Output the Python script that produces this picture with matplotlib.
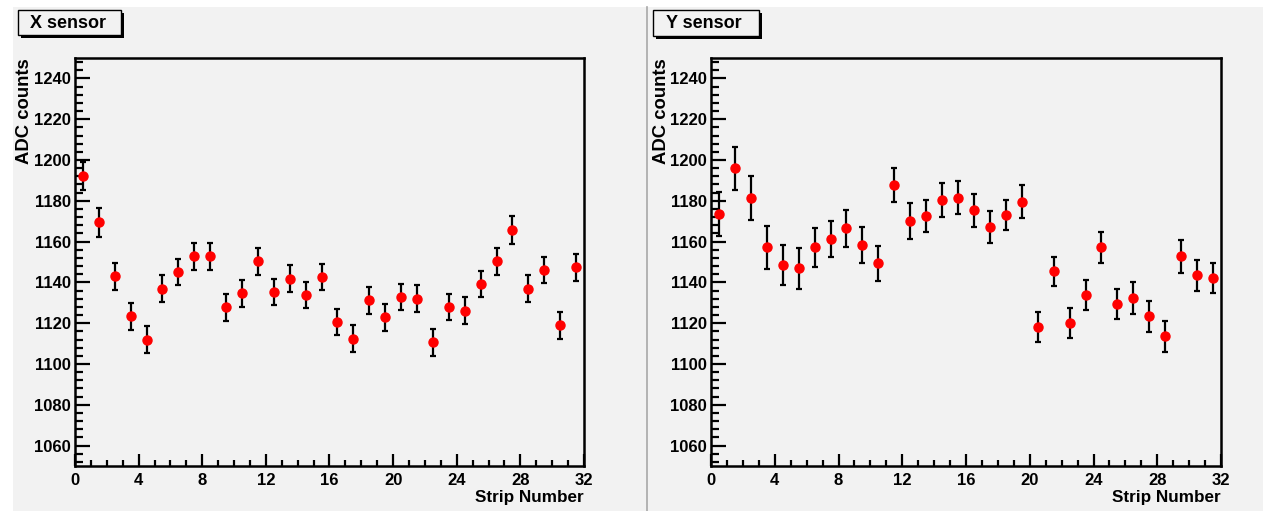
import numpy as np
import matplotlib
matplotlib.use("Agg")
import matplotlib.pyplot as plt
from matplotlib.patches import Rectangle
from matplotlib.lines import Line2D
from matplotlib.ticker import MultipleLocator

plt.rcParams['font.family'] = ['Liberation Sans', 'DejaVu Sans']
plt.rcParams['font.weight'] = 'bold'

# -----------------------------------------------------------------------------
# Data
# -----------------------------------------------------------------------------
strips = np.arange(32) + 0.5

x_adc = [1192.2, 1169.4, 1143.1, 1123.3, 1112.0, 1137.0, 1145.1, 1152.8,
         1152.8, 1127.7, 1134.6, 1150.3, 1135.2, 1141.8, 1133.8, 1142.6,
         1120.7, 1112.5, 1131.3, 1122.8, 1132.8, 1132.0, 1110.7, 1128.0,
         1126.2, 1139.3, 1150.3, 1165.7, 1136.9, 1146.0, 1119.0, 1147.4]
x_err = [7.0, 6.9, 6.6, 6.7, 6.6, 6.5, 6.6, 6.6,
         6.6, 6.6, 6.6, 6.6, 6.5, 6.6, 6.5, 6.5,
         6.5, 6.5, 6.6, 6.5, 6.5, 6.5, 6.6, 6.5,
         6.5, 6.5, 6.5, 6.9, 6.5, 6.5, 6.6, 6.6]

y_adc = [1173.4, 1196.0, 1181.5, 1157.2, 1148.6, 1146.9, 1157.2, 1161.3,
         1166.5, 1158.3, 1149.3, 1187.8, 1170.1, 1172.7, 1180.4, 1181.5,
         1175.3, 1167.3, 1173.0, 1179.6, 1118.1, 1145.4, 1120.0, 1133.8,
         1157.2, 1129.3, 1132.4, 1123.3, 1113.5, 1152.8, 1143.4, 1142.1]
y_err = [10.8, 10.6, 10.8, 10.6, 9.8, 10.2, 9.5, 9.0,
         9.2, 9.0, 8.5, 8.5, 8.8, 7.9, 8.2, 8.2,
         8.2, 7.9, 7.4, 8.2, 7.5, 7.2, 7.4, 7.5,
         7.7, 7.4, 7.7, 7.5, 7.5, 8.0, 7.5, 7.5]

panels = [("X sensor", x_adc, x_err), ("Y sensor", y_adc, y_err)]

# -----------------------------------------------------------------------------
# Figure and layout (pixel based)
# -----------------------------------------------------------------------------
W, H = 1263, 511
fig = plt.figure(figsize=(W / 100, H / 100), dpi=100, facecolor='white')
bg = '#f2f2f2'


def fx(x):
    return x / W


def fy(y):
    return 1 - y / H


fig.patches.append(Rectangle((fx(13), 0), 1 - fx(13), fy(7), transform=fig.transFigure,
                             facecolor=bg, edgecolor='none', zorder=-5))
fig.lines.append(Line2D([fx(647), fx(647)], [0, fy(7)], transform=fig.transFigure,
                        color='#a8a8a8', lw=1.2, zorder=1))

axes_left = [75, 711]
axes_right = [584, 1221]
top, bottom = 58, 466
title_boxes = [(18, 121, 10, 35, 30), (653, 759, 10, 36, 666)]

for i, (name, vals, errs) in enumerate(panels):
    l, r = axes_left[i], axes_right[i]
    ax = fig.add_axes([fx(l), fy(bottom), fx(r - l), (bottom - top) / H])
    ax.set_facecolor(bg)
    ax.errorbar(strips, vals, yerr=errs, fmt='o', color='red', markersize=6.5,
                ecolor='black', elinewidth=1.6, capsize=2.5, capthick=1.6, zorder=3)
    ax.set_xlim(0, 32)
    ax.set_ylim(1050, 1250)
    ax.xaxis.set_major_locator(MultipleLocator(4))
    ax.xaxis.set_minor_locator(MultipleLocator(1))
    ax.yaxis.set_major_locator(MultipleLocator(20))
    ax.yaxis.set_minor_locator(MultipleLocator(4))
    ax.tick_params(axis='both', which='both', direction='in', top=False, right=False,
                   width=1.6, labelsize=12)
    ax.tick_params(axis='y', which='major', length=10.8, pad=3)
    ax.tick_params(axis='y', which='minor', length=5.4)
    ax.tick_params(axis='x', which='major', length=8.6, pad=5)
    ax.tick_params(axis='x', which='minor', length=4.3)
    for s in ax.spines.values():
        s.set_linewidth(1.8)
    for lab in ax.get_xticklabels() + ax.get_yticklabels():
        lab.set_fontweight('bold')

    fig.text(fx(l - 50), fy(top), 'ADC counts', rotation=90, ha='center', va='top',
             fontsize=13.3, fontweight='bold')
    fig.text(fx(r), fy(497), 'Strip Number', ha='right', va='center',
             fontsize=12.3, fontweight='bold')

    # title box with shadow
    bl, br, bt, bb, tx = title_boxes[i]
    fig.patches.append(Rectangle((fx(bl + 3), fy(bb + 3)), fx(br - bl), (bb - bt) / H,
                                 transform=fig.transFigure, facecolor='black',
                                 edgecolor='none', zorder=4))
    fig.patches.append(Rectangle((fx(bl), fy(bb)), fx(br - bl), (bb - bt) / H,
                                 transform=fig.transFigure, facecolor=bg,
                                 edgecolor='black', lw=1.0, zorder=5))
    fig.text(fx(tx), fy((bt + bb) / 2 + 1), name, ha='left', va='center',
             fontsize=13, fontweight='bold', zorder=6)

fig.savefig('out.png', dpi=100, facecolor=fig.get_facecolor())
